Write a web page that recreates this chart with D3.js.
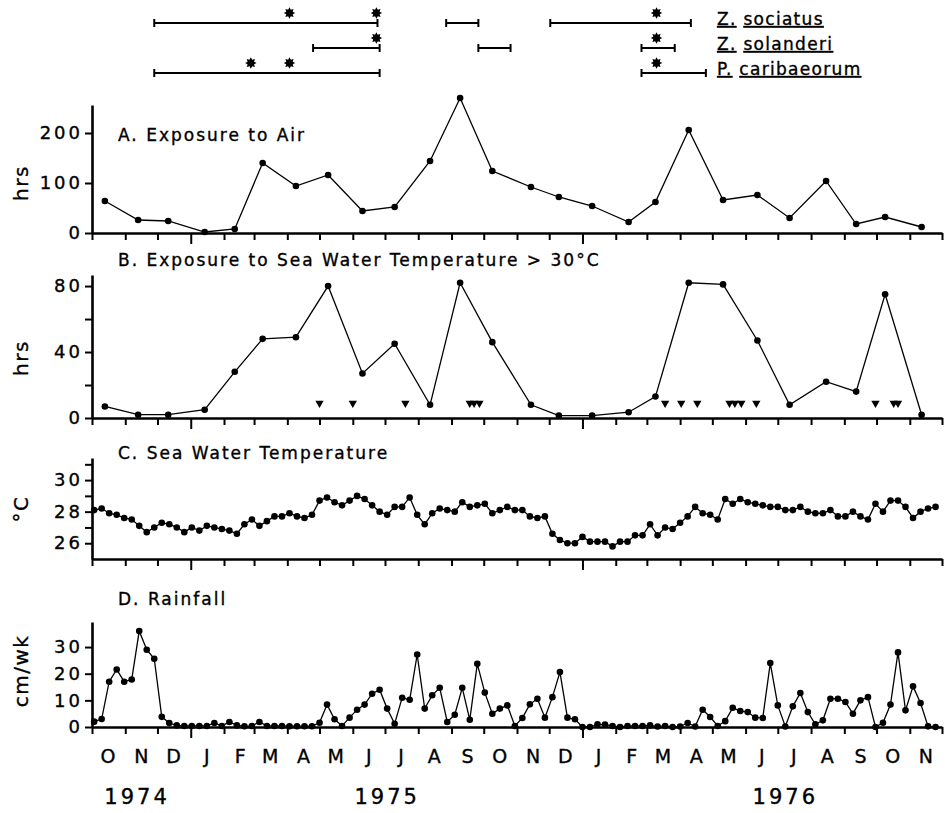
<!DOCTYPE html>
<html>
<head>
<meta charset="utf-8">
<script src="https://d3js.org/d3.v7.min.js"></script>
<style type="text/css">
body {margin:0;background:#fff;}
svg {font-family:"DejaVu Sans",sans-serif;}
svg text {fill:#000;stroke:#000;stroke-width:0.35px;}
.lbl {font-size:17px;letter-spacing:2px;}
.leg {font-size:17px;letter-spacing:1.3px;}
</style>
</head>
<body>
<svg id="chart" width="945" height="813"></svg>
<script type="text/javascript">
// species ranges (top)
var speciesGenus = ["Z.", "Z.", "P."];
var speciesName = ["sociatus", "solanderi", "caribaeorum"];
var barSpecies = [0, 0, 0, 1, 1, 1, 2, 2];
var barStart = ["1974-11-28", "1975-08-27", "1975-12-02", "1975-04-25", "1975-09-26", "1976-02-25", "1974-11-28", "1976-02-25"];
var barEnd = ["1975-06-24", "1975-09-26", "1976-04-11", "1975-06-26", "1975-10-26", "1976-03-27", "1975-06-26", "1976-04-25"];
var starSpecies = [0, 0, 0, 1, 1, 2, 2, 2];
var starDates = ["1975-04-03", "1975-06-23", "1976-03-10", "1975-06-23", "1976-03-10", "1975-02-26", "1975-04-03", "1976-03-10"];

// monthly samples, panels A and B
var monthlyDates = ["1974-10-13", "1974-11-13", "1974-12-11", "1975-01-14", "1975-02-11", "1975-03-09",
  "1975-04-09", "1975-05-09", "1975-06-10", "1975-07-10", "1975-08-12", "1975-09-09", "1975-10-09",
  "1975-11-14", "1975-12-10", "1976-01-10", "1976-02-13", "1976-03-09", "1976-04-09", "1976-05-11",
  "1976-06-12", "1976-07-12", "1976-08-15", "1976-09-12", "1976-10-09", "1976-11-12"];
var airHours = [64, 26, 24, 2, 8, 140, 94, 116, 44, 52, 144, 270, 124, 92, 72, 54, 22, 62, 206, 66, 76, 30, 104, 18, 32, 12];
var hotHours = [7, 2, 2, 5, 28, 48, 49, 80, 27, 45, 8, 82, 46, 8, 1.5, 1.5, 3.5, 13, 82, 81, 47, 8, 22, 16, 75, 2];
var hotEvents = ["1975-05-01", "1975-06-01", "1975-07-20", "1975-09-18", "1975-09-22", "1975-09-27",
  "1976-03-18", "1976-04-02", "1976-04-17", "1976-05-17", "1976-05-22", "1976-05-28", "1976-06-11",
  "1976-09-30", "1976-10-17", "1976-10-21"];

// weekly samples, panels C and D
var weeklyStart = "1974-10-03";
var seaTemp = [28.1, 28.2, 27.9, 27.8, 27.6, 27.5, 27.1, 26.7, 27.0, 27.3,
  27.2, 27.0, 26.7, 27.0, 26.8, 27.1, 27.0, 26.9, 26.8, 26.6,
  27.2, 27.5, 27.1, 27.4, 27.7, 27.7, 27.9, 27.7, 27.6, 27.8,
  28.7, 28.9, 28.6, 28.4, 28.7, 29.0, 28.8, 28.4, 28.0, 27.8,
  28.3, 28.3, 28.9, 27.8, 27.2, 27.9, 28.2, 28.1, 28.0,
  28.6, 28.3, 28.4, 28.5, 27.9, 28.1, 28.3, 28.1, 28.1, 27.7,
  27.6, 27.7, 26.6, 26.2, 26.0, 26.0, 26.4, 26.1, 26.1, 26.1,
  25.8, 26.1, 26.1, 26.5, 26.5, 27.2, 26.5, 27.0, 26.9, 27.3,
  27.7, 28.3, 27.9, 27.8, 27.5, 28.8, 28.5, 28.8, 28.6, 28.5,
  28.4, 28.3, 28.3, 28.1, 28.1, 28.3, 28.0, 27.9, 27.9, 28.1,
  27.7, 27.7, 28.0, 27.7, 27.5, 28.5, 28.0, 28.7, 28.7, 28.3,
  27.6, 28.0, 28.2, 28.3];
var rainfall = [2, 3, 17, 21.6, 17, 17.8, 36, 29, 25.6, 3.8,
  1.5, 0.6, 0.4, 0.4, 0.4, 0.4, 1.5, 0.4, 1.9, 0.6,
  0.3, 0.4, 1.9, 0.4, 0.4, 0.4, 0.3, 0.3, 0.3, 0.3,
  1.6, 8.4, 2.9, 0.4, 3.5, 6.5, 8.4, 12.5, 14, 6.9,
  1.2, 11, 10.2, 27.2, 6.9, 11.9, 14.7, 1.9, 4.6,
  14.7, 2.7, 23.7, 12.9, 5, 6.9, 8.1, 0.4, 3.4, 8.5,
  10.6, 3.5, 11.2, 20.6, 3.5, 2.9, 0, 0, 1, 0.9,
  0.4, 0, 0.4, 0.4, 0.4, 0.6, 0.2, 0.4, 0, 0.2,
  1.5, 0.2, 6.5, 3.75, 0.4, 2.2, 7.2, 6, 5.6, 3.5,
  3.4, 24, 8.1, 0.2, 7.75, 12.75, 5.6, 1, 2.5, 10.6,
  10.6, 9.4, 5, 10, 11.2, 0, 1.6, 8.4, 28, 6.25,
  15.25, 9, 0.25, 0];

var monthLetters = ["O","N","D","J","F","M","A","M","J","J","A","S","O","N","D","J","F","M","A","M","J","J","A","S","O","N"];
var yearLabels = ["1974", "1975", "1976"];
var yearCenters = ["1974-11-12", "1975-07-03", "1976-07-08"];

var parse = d3.timeParse("%Y-%m-%d");
var svg = d3.select("#chart");

var x = d3.scaleTime()
  .domain([new Date(1974, 9, 1), new Date(1976, 11, 1)])
  .range([92, 942]);

// ---- top species ranges ----
var yRow = d3.scalePoint().domain([0, 1, 2]).range([23, 73]);
var topG = svg.append("g");
for (var i = 0; i < barSpecies.length; i++) {
  var y0 = yRow(barSpecies[i]), xa = x(parse(barStart[i])), xb = x(parse(barEnd[i]));
  topG.append("line").attr("x1", xa).attr("x2", xb).attr("y1", y0).attr("y2", y0)
    .attr("stroke", "#000").attr("stroke-width", 2);
  [xa, xb].forEach(function (xx) {
    topG.append("line").attr("x1", xx).attr("x2", xx).attr("y1", y0 - 4).attr("y2", y0 + 4)
      .attr("stroke", "#000").attr("stroke-width", 2);
  });
}
var star8 = {
  draw: function (ctx, size) {
    var r = Math.sqrt(size) / 2, r2 = r * 0.62;
    for (var k = 0; k < 16; k++) {
      var a = k * Math.PI / 8 - Math.PI / 2, rr = k % 2 ? r2 : r;
      if (k === 0) ctx.moveTo(rr * Math.cos(a), rr * Math.sin(a));
      else ctx.lineTo(rr * Math.cos(a), rr * Math.sin(a));
    }
    ctx.closePath();
  }
};
topG.selectAll("path.star").data(starDates).enter().append("path")
  .attr("class", "star")
  .attr("d", d3.symbol().type(star8).size(130))
  .attr("transform", function (d, i) { return "translate(" + x(parse(d)) + "," + (yRow(starSpecies[i]) - 10) + ")"; })
  .attr("fill", "#000");
speciesName.forEach(function (nm, i) {
  var t = topG.append("text").attr("class", "leg").attr("x", 717).attr("y", yRow(i) + 2);
  t.append("tspan").style("text-decoration", "underline").text(speciesGenus[i]);
  t.append("tspan").text(" ");
  t.append("tspan").style("text-decoration", "underline").text(nm);
});

// ---- panels ----
function panel(opt) {
  var g = svg.append("g");
  var xa = g.append("g").attr("transform", "translate(0," + opt.y.range()[0] + ")")
    .call(d3.axisBottom(x).ticks(d3.timeMonth.every(1)).tickFormat("").tickSize(7).tickSizeOuter(0));
  xa.selectAll(".tick line").attr("y2", function (d) { return d.getMonth() === 0 ? 11 : 7; }).attr("stroke-width", 2);
  xa.select(".domain").attr("stroke-width", 2.6);
  var ya = g.append("g").attr("transform", "translate(92,0)")
    .call(d3.axisLeft(opt.y).tickValues(opt.ticks).tickFormat(opt.fmt).tickSize(7).tickPadding(2).tickSizeOuter(0));
  ya.select(".domain").attr("stroke-width", 2.6);
  ya.selectAll(".tick line").attr("stroke-width", 2);
  ya.selectAll(".tick text").attr("font-family", "DejaVu Sans").attr("font-size", 18)
    .attr("letter-spacing", 3);
  var line = d3.line().x(function (d) { return x(d[0]); }).y(function (d) { return opt.y(d[1]); });
  g.append("path").datum(opt.data).attr("d", line).attr("fill", "none")
    .attr("stroke", "#000").attr("stroke-width", 1.3);
  g.selectAll("circle").data(opt.data).enter().append("circle")
    .attr("cx", function (d) { return x(d[0]); }).attr("cy", function (d) { return opt.y(d[1]); })
    .attr("r", opt.r).attr("fill", "#000");
  g.append("text").attr("class", "lbl").attr("x", 118).attr("y", opt.titleY).text(opt.title);
  g.append("text").attr("transform", "translate(28," + opt.labelY + ") rotate(-90)")
    .attr("text-anchor", "middle").attr("font-size", 20).attr("letter-spacing", 1.5).text(opt.label);
  return g;
}

var mDates = monthlyDates.map(parse);
var wDates = seaTemp.map(function (v, i) { return d3.timeWeek.offset(parse(weeklyStart), i); });

var yA = d3.scaleLinear().domain([0, 256]).range([233, 105]);
panel({ y: yA, ticks: [0, 100, 200], fmt: d3.format("d"), r: 3.3,
  data: mDates.map(function (d, i) { return [d, airHours[i]]; }),
  title: "A.  Exposure to Air", titleY: 141, label: "hrs", labelY: 183 });

var yB = d3.scaleLinear().domain([0, 86.7]).range([418, 275]);
var pB = panel({ y: yB, ticks: [0, 20, 40, 60, 80], fmt: function (d) { return d % 40 === 0 ? d : ""; }, r: 3.3,
  data: mDates.map(function (d, i) { return [d, hotHours[i]]; }),
  title: "B.  Exposure to Sea Water Temperature > 30°C", titleY: 266, label: "hrs", labelY: 358 });
pB.selectAll("path.tri").data(hotEvents).enter().append("path")
  .attr("class", "tri")
  .attr("d", d3.symbol().type(d3.symbolTriangle).size(30))
  .attr("transform", function (d) { return "translate(" + x(parse(d)) + "," + yB(9) + ") rotate(180)"; })
  .attr("fill", "#000");

var yC = d3.scaleLinear().domain([25, 31.4]).range([559, 458]);
panel({ y: yC, ticks: [26, 27, 28, 29, 30, 31], fmt: function (d) { return d % 2 === 0 ? d : ""; }, r: 3.3,
  data: wDates.map(function (d, i) { return [d, seaTemp[i]]; }),
  title: "C.  Sea Water Temperature", titleY: 459, label: "°C", labelY: 509 });

var yD = d3.scaleLinear().domain([0, 39.4]).range([727, 622]);
panel({ y: yD, ticks: [0, 10, 20, 30], fmt: d3.format("d"), r: 3.3,
  data: wDates.map(function (d, i) { return [d, rainfall[i]]; }),
  title: "D.  Rainfall", titleY: 605, label: "cm/wk", labelY: 671 });

// ---- month and year labels ----
var months = d3.timeMonth.range(x.domain()[0], x.domain()[1]);
svg.selectAll("text.mon").data(months).enter().append("text")
  .attr("class", "mon")
  .attr("x", function (d) { return x(d3.timeDay.offset(d, 15)); })
  .attr("y", 763).attr("text-anchor", "middle").attr("font-size", 19)
  .text(function (d, i) { return monthLetters[i]; });
svg.selectAll("text.yr").data(yearLabels).enter().append("text")
  .attr("class", "yr")
  .attr("x", function (d, i) { return x(parse(yearCenters[i])); })
  .attr("y", 804).attr("text-anchor", "middle").attr("font-size", 21).attr("letter-spacing", 3)
  .text(function (d) { return d; });
</script>
</body>
</html>
